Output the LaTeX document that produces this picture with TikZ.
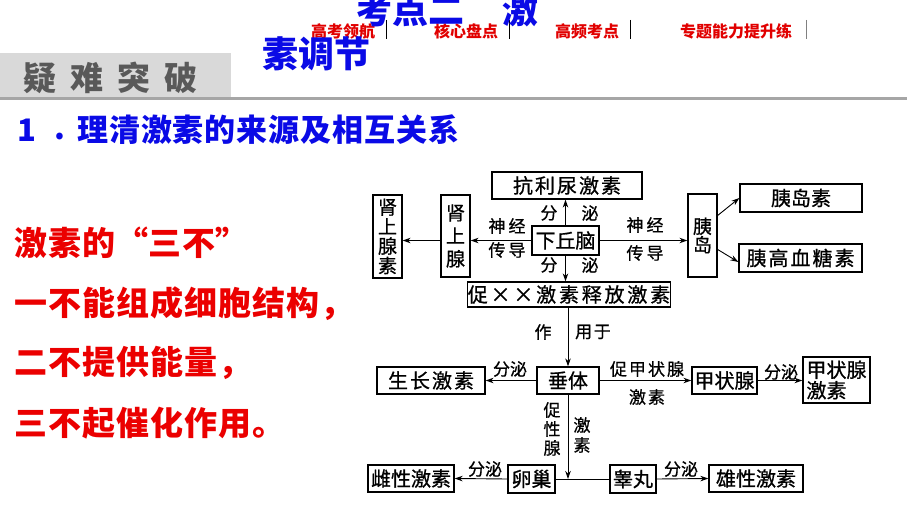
\documentclass[tikz,border=0pt]{standalone}
\usepackage{fontspec}
\usetikzlibrary{arrows.meta}
\newfontfamily\cjk{Noto Sans CJK SC}
\newfontfamily\cjkd{Noto Sans CJK SC}[FakeBold=0.8]
\definecolor{tblue}{RGB}{10,10,230}
\definecolor{tred}{RGB}{235,0,0}
\definecolor{navred}{RGB}{225,0,0}
\definecolor{gbox}{RGB}{217,217,217}
\definecolor{gline}{RGB}{166,166,166}
\definecolor{gtext}{RGB}{89,89,89}
\tikzset{
  dbox/.style={draw, line width=1.3pt, inner sep=0pt, align=center, font=\cjkd\fontsize{20}{20}\selectfont},
  dlab/.style={inner sep=0pt, align=center, font=\cjkd\fontsize{17}{19}\selectfont},
  darr/.style={-{Stealth[length=8pt,width=5.5pt]}, line width=0.9pt},
  dline/.style={line width=0.9pt},
  navtxt/.style={inner sep=0pt, text=navred, font=\cjk\bfseries\fontsize{16}{16}\selectfont},
  navsep/.style={line width=0.8pt, black},
  ttl/.style={inner sep=0pt, text=tblue, font=\cjk\bfseries\fontsize{36}{36}\selectfont},
  headtxt/.style={inner sep=0pt, anchor=west, text=tblue, font=\cjk\bfseries\fontsize{31}{31}\selectfont},
  redtxt/.style={inner sep=0pt, anchor=west, text=tred, font=\cjk\bfseries\fontsize{33}{33}\selectfont\addfontfeature{LetterSpace=3}},
}
\begin{document}
\begin{tikzpicture}[x=1pt,y=-1pt]
\useasboundingbox (0,0) rectangle (907,510);
\fill[white] (0,0) rectangle (907,510);
% header
\fill[gbox] (0,53) rectangle (231,97);
\fill[gline] (0,97) rectangle (907,100);
\node[anchor=west, inner sep=0pt, text=gtext, font=\cjk\bfseries\fontsize{33}{33}\selectfont\addfontfeature{LetterSpace=43}] (yn) at (23,77.5) {疑难突破};
\node[navtxt] (n1) at (343,31) {高考领航};
\node[navtxt] (n2) at (466,31) {核心盘点};
\node[navtxt] (n3) at (587,31) {高频考点};
\node[navtxt] (n4) at (736,31) {专题能力提升练};
\draw[navsep] (386,20) -- (386,39);
\draw[navsep] (509,20) -- (509,39);
\draw[navsep] (630,20) -- (630,39);
\draw[navsep, gray] (806,20) -- (806,39);
\node[ttl] (t1) at (410.5,9.5) {考点二};
\node[ttl] (t2) at (520,9.5) {激};
\node[ttl] (t3) at (316.5,53.5) {素调节};
\node[headtxt] (h1) at (17,130) {1};
\node[inner sep=0pt, text=tblue, font=\cjk\bfseries\fontsize{31}{31}\selectfont] (h2) at (60,137) {.};
\node[headtxt, font=\cjk\bfseries\fontsize{31}{31}\selectfont\addfontfeature{LetterSpace=3}] (h3) at (77,130) {理清激素的来源及相互关系};
% red text
\node[redtxt] (r1) at (14,242.5) {激素的\makebox[33pt][r]{“}三不\makebox[33pt][l]{”}};
\node[redtxt] (r2) at (14,304) {一不能组成细胞结构，};
\node[redtxt] (r3) at (14,363) {二不提供能量，};
\node[redtxt] (r4) at (14,423) {三不起催化作用。};
% diagram boxes
\node[dbox, minimum width=67pt, minimum height=29pt] (hyp) at (565.5,240.5) {下丘脑};
\node[dbox, minimum width=150pt, minimum height=27pt] (adh) at (567,185.5) {\addfontfeature{LetterSpace=10}抗利尿激素};
\node[dbox, minimum width=29pt, minimum height=83pt, font=\cjkd\fontsize{19}{19.5}\selectfont] (sxs) at (387.5,236.5) {肾\\上\\腺\\素};
\node[dbox, minimum width=29pt, minimum height=82pt, font=\cjkd\fontsize{19}{23}\selectfont] (sxx) at (455.5,236) {肾\\上\\腺};
\node[dbox, minimum width=29pt, minimum height=83pt, font=\cjkd\fontsize{19}{18.5}\selectfont] (yd) at (702.5,235.5) {胰\\岛};
\node[dbox, minimum width=122pt, minimum height=28pt] (yds) at (801,198) {胰岛素};
\node[dbox, minimum width=123pt, minimum height=28pt] (ygx) at (800.5,258) {\addfontfeature{LetterSpace=10}胰高血糖素};
\node[dbox, minimum width=192pt, minimum height=25pt] (cx) at (569,294.5) {\addfontfeature{LetterSpace=14}促××激素释放激素};
\node[dbox, minimum width=62pt, minimum height=27pt] (ct) at (568,380.5) {垂体};
\node[dbox, minimum width=108pt, minimum height=27pt] (szjs) at (431,380.5) {\addfontfeature{LetterSpace=10}生长激素};
\node[dbox, minimum width=65pt, minimum height=27pt] (jzx) at (724.5,380.5) {甲状腺};
\node[dbox, minimum width=67pt, minimum height=46pt, align=left, font=\cjkd\fontsize{20}{20.5}\selectfont] (jzxjs) at (836.5,380) {甲状腺\\激素};
\node[dbox, minimum width=47pt, minimum height=28pt] (lc) at (531.5,479) {卵巢};
\node[dbox, minimum width=46pt, minimum height=28pt] (gw) at (633,479) {睾丸};
\node[dbox, minimum width=86pt, minimum height=27pt] (cxjs) at (411,478.5) {雌性激素};
\node[dbox, minimum width=94pt, minimum height=27pt] (xxjs) at (756,478.5) {雄性激素};
\coordinate (j) at (ct.south |- lc.east);
% connectors
\draw[darr] (hyp.north) -- (hyp.north |- adh.south);
\draw[darr] (hyp.south) -- (hyp.south |- cx.north);
\draw[darr] (hyp.west) -- (hyp.west -| sxx.east);
\draw[darr] (sxx.west |- hyp.west) -- (sxs.east |- hyp.west);
\draw[darr] (hyp.east) -- (hyp.east -| yd.west);
\draw[darr] ([yshift=20pt]yd.east) -- (yds.west);
\draw[darr] ([yshift=-14pt]yd.east) -- ([yshift=-4pt]ygx.west);
\draw[darr] (ct.north |- cx.south) -- (ct.north);
\draw[darr] (ct.west) -- (szjs.east);
\draw[darr] (ct.east) -- (jzx.west);
\draw[darr] (jzx.east) -- (jzx.east -| jzxjs.west);
\draw[darr] (ct.south) -- (j);
\draw[dline] (lc.east) -- (gw.west);
\draw[darr] (lc.west) -- (cxjs.east);
\draw[darr] (gw.east) -- (xxjs.west);
% labels
\node[dlab] (l1) at (549,213) {分};
\node[dlab] (l2) at (590,213) {泌};
\node[dlab] (l3) at (549,265) {分};
\node[dlab] (l4) at (590,265) {泌};
\node[dlab, font=\cjkd\fontsize{17}{19}\selectfont\addfontfeature{LetterSpace=18}] (l5) at (507,226) {神经};
\node[dlab, font=\cjkd\fontsize{17}{19}\selectfont\addfontfeature{LetterSpace=18}] (l6) at (507,250) {传导};
\node[dlab, font=\cjkd\fontsize{17}{19}\selectfont\addfontfeature{LetterSpace=18}] (l7) at (645,225) {神经};
\node[dlab, font=\cjkd\fontsize{17}{19}\selectfont\addfontfeature{LetterSpace=18}] (l8) at (645,253) {传导};
\node[dlab] (l9) at (543,332) {作};
\node[dlab, font=\cjkd\fontsize{17}{19}\selectfont\addfontfeature{LetterSpace=10}] (l10) at (593,332) {用于};
\node[dlab] (l11) at (510,369) {分泌};
\node[dlab, font=\cjkd\fontsize{17}{19}\selectfont\addfontfeature{LetterSpace=12}] (l12) at (647,369) {促甲状腺};
\node[dlab, font=\cjkd\fontsize{17}{19}\selectfont\addfontfeature{LetterSpace=12}] (l13) at (647,397) {激素};
\node[dlab] (l14) at (781,372) {分泌};
\node[dlab, font=\cjkd\fontsize{17}{19}\selectfont] (l15) at (552,429) {促\\性\\腺};
\node[dlab, font=\cjkd\fontsize{17}{20}\selectfont] (l16) at (582,435) {激\\素};
\node[dlab] (l17) at (485,469) {分泌};
\node[dlab] (l18) at (681,469) {分泌};
\end{tikzpicture}
\end{document}
